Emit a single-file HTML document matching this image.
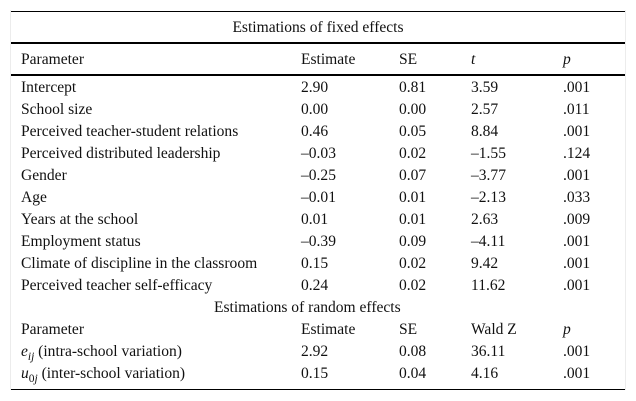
<!DOCTYPE html>
<html>
<head>
<meta charset="utf-8">
<style>
html,body{margin:0;padding:0;background:#fff;}
#page{position:relative;width:636px;height:401px;overflow:hidden;background:#fff;font-family:"Liberation Serif",serif;font-size:15.55px;color:#111;}
.t{position:absolute;white-space:nowrap;line-height:16px;height:16px;}
.r{position:absolute;background:#000;left:11px;width:601px;}
.e{position:absolute;background:#ececec;width:1px;top:10px;height:380px;}
sub{font-size:11.5px;line-height:0;vertical-align:-4px;}
</style>
</head>
<body>
<div id="page">
<div class="e" style="left:10px"></div>
<div class="e" style="left:625px"></div>
<div class="r" style="top:11px;height:1px;width:614px"></div>
<div class="r" style="top:42px;height:2px;width:614px"></div>
<div class="r" style="top:74px;height:2px;width:614px"></div>
<div class="r" style="top:389px;height:1px;width:614px"></div>
<div class="t" style="left:11px;width:614px;text-align:center;top:20px">Estimations of fixed effects</div>
<div id="rows"></div>
<div class="t" style="left:214px;top:300px">Estimations of random effects</div>
</div>
<script>
const headerFixed = ['Parameter','Estimate','SE','<i>t</i>','<i>p</i>'];
const fixedRows = [
['Intercept','2.90','0.81','3.59','.001'],
['School size','0.00','0.00','2.57','.011'],
['Perceived teacher-student relations','0.46','0.05','8.84','.001'],
['Perceived distributed leadership','–0.03','0.02','–1.55','.124'],
['Gender','–0.25','0.07','–3.77','.001'],
['Age','–0.01','0.01','–2.13','.033'],
['Years at the school','0.01','0.01','2.63','.009'],
['Employment status','–0.39','0.09','–4.11','.001'],
['Climate of discipline in the classroom','0.15','0.02','9.42','.001'],
['Perceived teacher self-efficacy','0.24','0.02','11.62','.001']
];
const headerRandom = ['Parameter','Estimate','SE','Wald Z','<i>p</i>'];
const randomRows = [
['<i>e<sub>ij</sub></i> (intra-school variation)','2.92','0.08','36.11','.001'],
['<i>u</i><sub>0<i>j</i></sub> (inter-school variation)','0.15','0.04','4.16','.001']
];
const colX = [21,301,399,471,563];
const host = document.getElementById('rows');
function addRow(cells, top){
  cells.forEach(function(c,i){
    const d = document.createElement('div');
    d.className = 't';
    d.style.left = colX[i] + 'px';
    d.style.top = top + 'px';
    d.innerHTML = c;
    
    
    host.appendChild(d);
  });
}
addRow(headerFixed, 52);
fixedRows.forEach(function(r,i){ addRow(r, 80 + i*22); });
addRow(headerRandom, 322);
randomRows.forEach(function(r,i){ addRow(r, 344 + i*22); });
</script>
</body>
</html>
